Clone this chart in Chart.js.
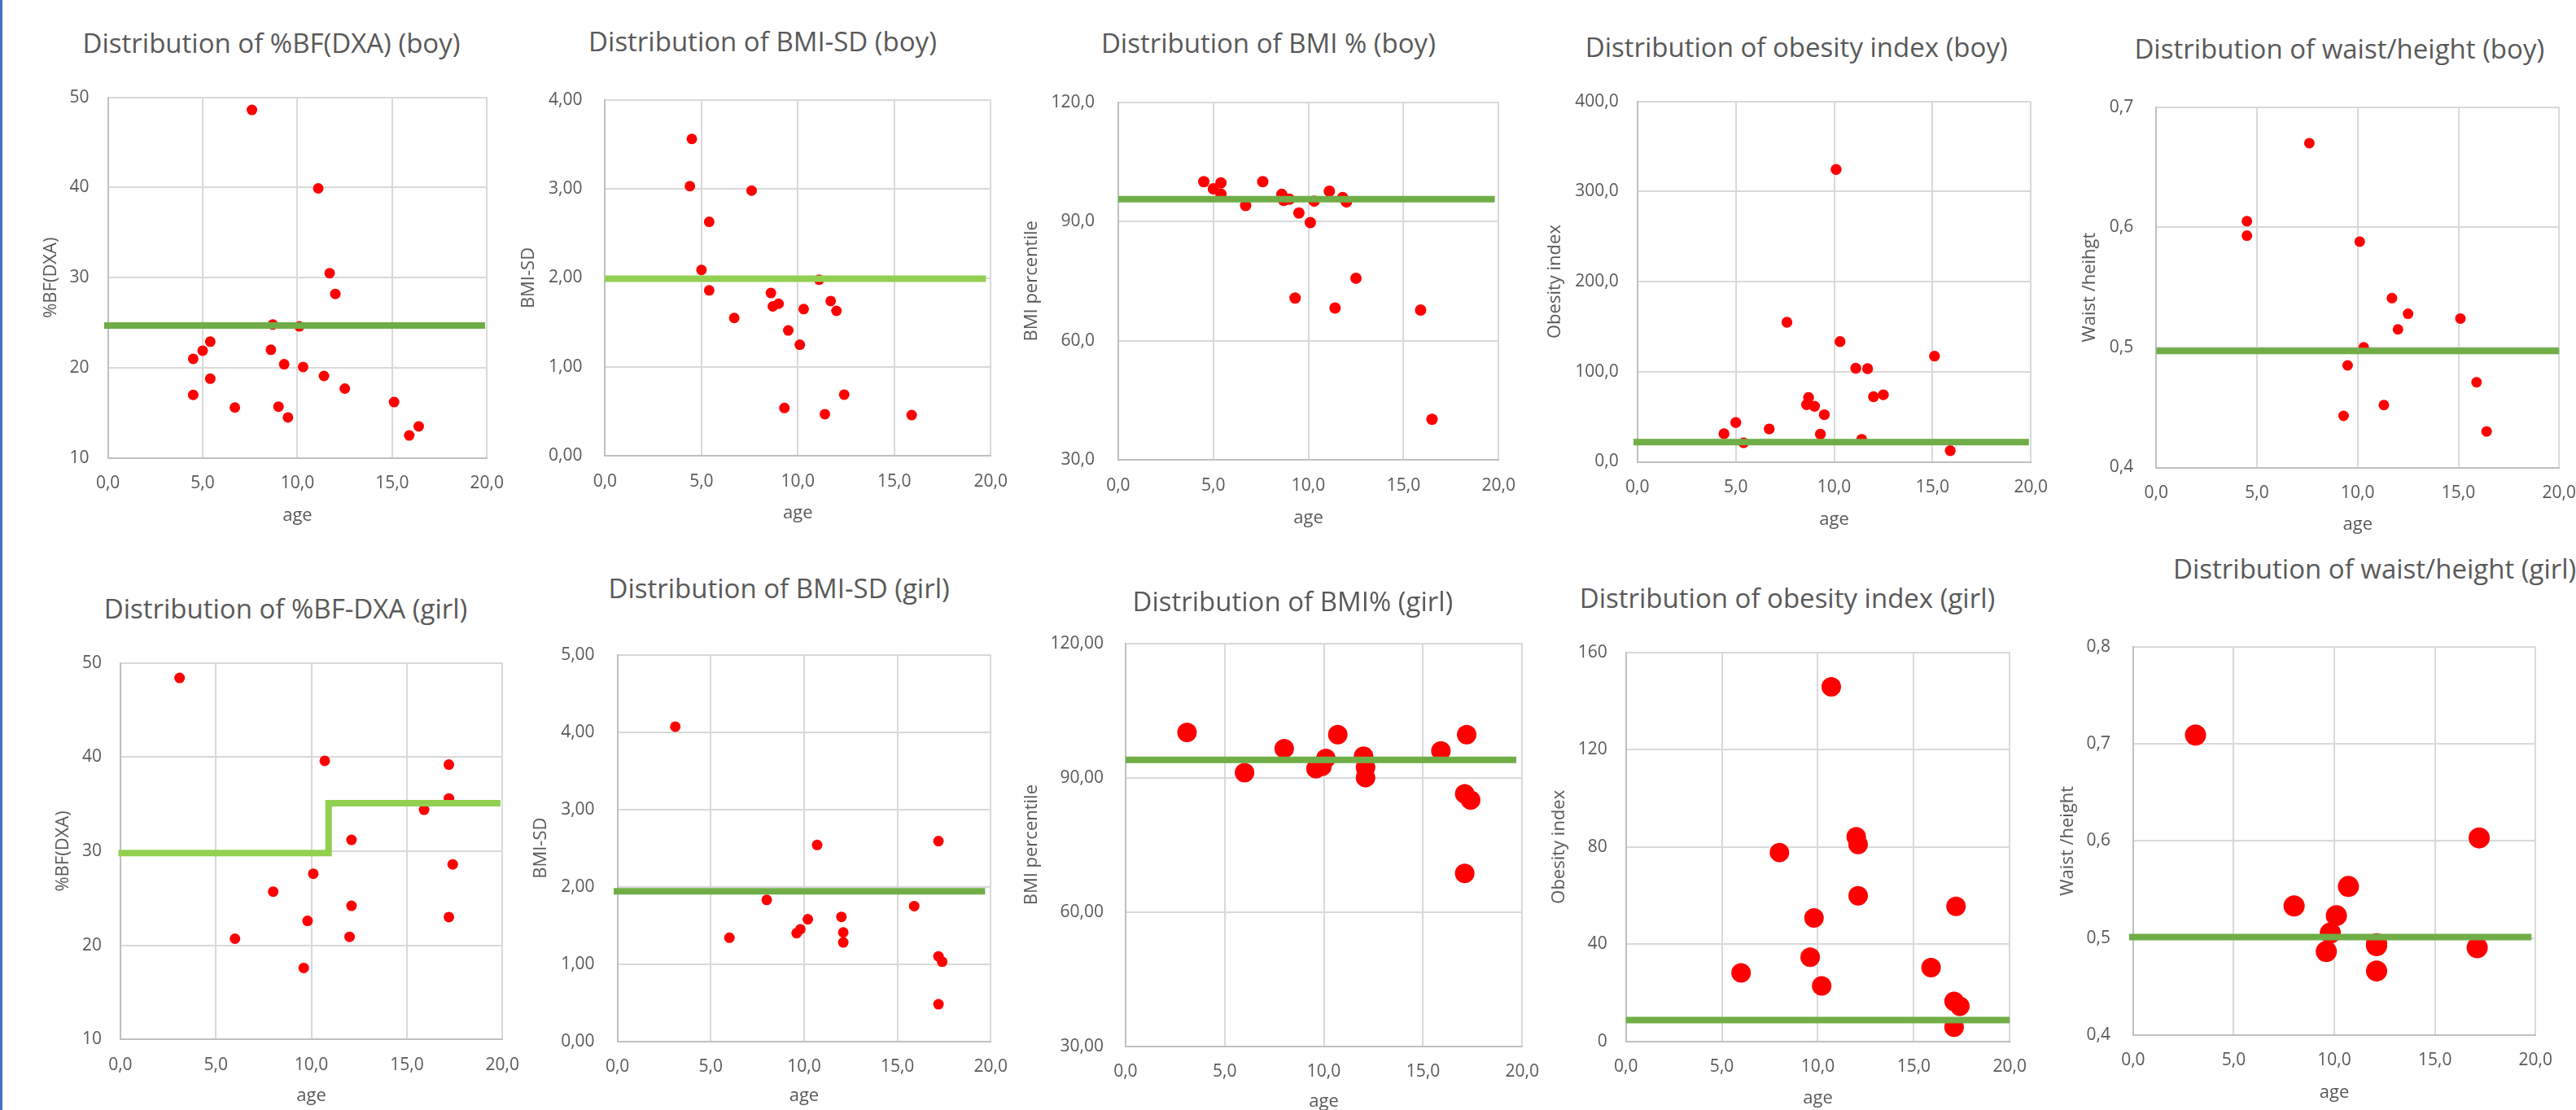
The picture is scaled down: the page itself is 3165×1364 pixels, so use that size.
<!DOCTYPE html>
<html>
<head>
<meta charset="utf-8">
<script src="https://cdn.jsdelivr.net/npm/chart.js@4.4.0/dist/chart.umd.min.js"></script>
<style>
  html, body { margin: 0; padding: 0; background: #fff; }
  body { width: 3165px; height: 1364px; position: relative; overflow: hidden; font-family: 'Open Sans', sans-serif; }
  #borda { position: absolute; left: 0; top: 0; width: 3px; height: 1364px; background: #4472c4; }
  canvas { position: absolute; }
  .titulo { position: absolute; transform: translate(-50%, -50%); font-size: 33px; line-height: 1; color: #595959; white-space: nowrap; }
</style>
</head>
<body>
<div id="borda"></div>
<script>
// eixo x comum
const xTickLabels = ['0,0', '5,0', '10,0', '15,0', '20,0'];

// ticks do eixo y
const bfTicks = ['10', '20', '30', '40', '50'];
const boySdTicks = ['0,00', '1,00', '2,00', '3,00', '4,00'];
const boyPctTicks = ['30,0', '60,0', '90,0', '120,0'];
const boyObTicks = ['0,0', '100,0', '200,0', '300,0', '400,0'];
const boyWhTicks = ['0,4', '0,5', '0,6', '0,7'];
const girlSdTicks = ['0,00', '1,00', '2,00', '3,00', '4,00', '5,00'];
const girlPctTicks = ['30,00', '60,00', '90,00', '120,00'];
const girlObTicks = ['0', '40', '80', '120', '160'];
const girlWhTicks = ['0,4', '0,5', '0,6', '0,7', '0,8'];

// meninos
const boyBfAge = [7.6, 11.1, 11.7, 12.0, 8.7, 10.1, 5.4, 5.0, 4.5, 8.6, 9.3, 10.3, 5.4, 11.4, 4.5, 12.5, 6.7, 9.0, 9.5, 15.1, 15.9, 16.4];
const boyBf = [48.6, 39.9, 30.5, 28.2, 24.8, 24.6, 22.9, 21.9, 21.0, 22.0, 20.4, 20.1, 18.8, 19.1, 17.0, 17.7, 15.6, 15.7, 14.5, 16.2, 12.5, 13.5];
const boySdAge = [4.5, 4.4, 7.6, 5.4, 5.0, 11.1, 5.4, 8.6, 11.7, 9.0, 8.7, 10.3, 12.0, 6.7, 9.5, 10.1, 12.4, 9.3, 11.4, 15.9];
const boySd = [3.56, 3.03, 2.98, 2.63, 2.09, 1.98, 1.86, 1.83, 1.74, 1.71, 1.68, 1.65, 1.63, 1.55, 1.41, 1.25, 0.69, 0.54, 0.47, 0.46];
const boyPctAge = [4.5, 7.6, 5.4, 5.0, 5.4, 11.1, 8.6, 11.8, 8.7, 9.0, 10.3, 12.0, 6.7, 9.5, 10.1, 12.5, 9.3, 11.4, 15.9, 16.5];
const boyPct = [100.0, 100.0, 99.7, 98.2, 96.9, 97.6, 96.8, 96.0, 95.3, 95.6, 95.1, 94.9, 94.0, 92.1, 89.7, 75.7, 70.7, 68.2, 67.7, 40.2];
const boyObAge = [10.1, 7.6, 10.3, 15.1, 11.1, 11.7, 12.5, 12.0, 8.7, 8.6, 9.0, 9.5, 5.0, 6.7, 4.4, 9.3, 11.4, 5.4, 15.9];
const boyOb = [324.4, 154.9, 133.5, 117.3, 103.8, 103.4, 74.4, 72.2, 71.4, 63.5, 61.7, 52.3, 43.6, 36.5, 31.2, 30.8, 24.8, 21.1, 12.4];
const boyWhAge = [7.6, 4.5, 4.5, 10.1, 11.7, 12.5, 15.1, 12.0, 10.3, 9.5, 15.9, 11.3, 9.3, 16.4];
const boyWh = [0.670, 0.605, 0.593, 0.588, 0.541, 0.528, 0.524, 0.515, 0.500, 0.485, 0.471, 0.452, 0.443, 0.430];

// meninas
const girlBfAge = [3.1, 10.7, 17.2, 17.2, 15.9, 12.1, 17.4, 10.1, 8.0, 12.1, 9.8, 17.2, 6.0, 12.0, 9.6];
const girlBf = [48.4, 39.6, 39.2, 35.6, 34.4, 31.2, 28.6, 27.6, 25.7, 24.2, 22.6, 23.0, 20.7, 20.9, 17.6];
const girlSdAge = [3.1, 10.7, 17.2, 8.0, 15.9, 12.0, 10.2, 9.8, 9.6, 12.1, 12.1, 6.0, 17.2, 17.4, 17.2];
const girlSd = [4.07, 2.54, 2.59, 1.83, 1.75, 1.61, 1.58, 1.45, 1.40, 1.41, 1.28, 1.34, 1.10, 1.03, 0.48];
const girlPctAge = [3.1, 10.7, 17.2, 8.0, 15.9, 10.1, 12.0, 12.1, 9.6, 9.9, 6.0, 12.1, 17.1, 17.4, 17.1];
const girlPct = [100.1, 99.6, 99.6, 96.5, 96.0, 94.3, 94.8, 92.3, 92.0, 92.5, 91.1, 90.0, 86.4, 85.0, 68.6];
const girlObAge = [10.7, 12.0, 12.1, 8.0, 12.1, 17.2, 9.8, 9.6, 6.0, 15.9, 10.2, 17.1, 17.4, 17.1];
const girlOb = [145.8, 84.2, 81.0, 77.7, 59.9, 55.6, 50.8, 34.7, 28.2, 30.4, 22.9, 16.5, 14.5, 5.9];
const girlWhAge = [3.1, 17.2, 10.7, 8.0, 10.1, 9.8, 12.1, 12.1, 17.1, 9.6, 12.1];
const girlWh = [0.709, 0.603, 0.553, 0.533, 0.523, 0.505, 0.494, 0.492, 0.490, 0.486, 0.466];

// linhas de corte (verde)
const boyBfCutAge = [-0.2, 19.9];
const boyBfCut = [24.7, 24.7];
const boySdCutAge = [0, 19.75];
const boySdCut = [1.99, 1.99];
const boyPctCutAge = [0, 19.8];
const boyPctCut = [95.6, 95.6];
const boyObCutAge = [-0.2, 19.9];
const boyObCut = [21.8, 21.8];
const boyWhCutAge = [0, 20];
const boyWhCut = [0.497, 0.497];
const girlBfCutAge = [-0.1, 10.9, 10.9, 19.9];
const girlBfCut = [29.8, 29.8, 35.1, 35.1];
const girlSdCutAge = [-0.2, 19.7];
const girlSdCut = [1.94, 1.94];
const girlPctCutAge = [0, 19.7];
const girlPctCut = [94.0, 94.0];
const girlObCutAge = [0, 20];
const girlObCut = [8.8, 8.8];
const girlWhCutAge = [-0.2, 19.8];
const girlWhCut = [0.501, 0.501];

const VERDE = '#70ad47';
const VERDE_CLARO = '#92d050';
const CINZA = '#595959';

const paineis = [
  { titulo: 'Distribution of %BF(DXA) (boy)', eixoY: '%BF(DXA)', x: boyBfAge, y: boyBf, ticks: bfTicks, corteX: boyBfCutAge, corteY: boyBfCut, cor: VERDE, raio: 6.5,
    caixa: { l: 132.6, r: 601.5, t: 108.1, b: 562.3, ty: 63.5, age: 633.3, cx: 333.5, cy: 54.3, pad: 23 } },
  { titulo: 'Distribution of BMI-SD (boy)', eixoY: 'BMI-SD', x: boySdAge, y: boySd, ticks: boySdTicks, corteX: boySdCutAge, corteY: boySdCut, cor: VERDE_CLARO, raio: 6.5,
    caixa: { l: 743.4, r: 1220.7, t: 106, b: 560.6, ty: 650, age: 631, cx: 937, cy: 52, pad: 28 } },
  { titulo: 'Distribution of BMI % (boy)', eixoY: 'BMI percentile', x: boyPctAge, y: boyPct, ticks: boyPctTicks, corteX: boyPctCutAge, corteY: boyPctCut, cor: VERDE, raio: 7,
    caixa: { l: 1373.9, r: 1844.9, t: 108.1, b: 564.9, ty: 1268.6, age: 636.7, cx: 1558.4, cy: 54.3, pad: 29 } },
  { titulo: 'Distribution of obesity index (boy)', eixoY: 'Obesity index', x: boyObAge, y: boyOb, ticks: boyObTicks, corteX: boyObCutAge, corteY: boyObCut, cor: VERDE, raio: 6.7,
    caixa: { l: 2011.8, r: 2499.3, t: 112.8, b: 567.5, ty: 1911.5, age: 638.8, cx: 2207.2, cy: 59, pad: 23 } },
  { titulo: 'Distribution of waist/height (boy)', eixoY: 'Waist /heihgt', x: boyWhAge, y: boyWh, ticks: boyWhTicks, corteX: boyWhCutAge, corteY: boyWhCut, cor: VERDE, raio: 6.5,
    caixa: { l: 2649.3, r: 3148, t: 115.4, b: 574.7, ty: 2568.3, age: 645, cx: 2874.3, cy: 61, pad: 28 } },
  { titulo: 'Distribution of %BF-DXA (girl)', eixoY: '%BF(DXA)', x: girlBfAge, y: girlBf, ticks: bfTicks, corteX: girlBfCutAge, corteY: girlBfCut, cor: VERDE_CLARO, raio: 6.5,
    caixa: { l: 147.9, r: 620.8, t: 803.2, b: 1277.7, ty: 77.9, age: 1347.2, cx: 351, cy: 748.8, pad: 23 } },
  { titulo: 'Distribution of BMI-SD (girl)', eixoY: 'BMI-SD', x: girlSdAge, y: girlSd, ticks: girlSdTicks, corteX: girlSdCutAge, corteY: girlSdCut, cor: VERDE, raio: 6.5,
    caixa: { l: 758.6, r: 1220.7, t: 787.7, b: 1279.9, ty: 665, age: 1347, cx: 957.1, cy: 724, pad: 28 } },
  { titulo: 'Distribution of BMI% (girl)', eixoY: 'BMI percentile', x: girlPctAge, y: girlPct, ticks: girlPctTicks, corteX: girlPctCutAge, corteY: girlPctCut, cor: VERDE, raio: 12,
    caixa: { l: 1382.9, r: 1873.9, t: 775.3, b: 1285.7, ty: 1268.2, age: 1353.8, cx: 1588.4, cy: 740, pad: 27 } },
  { titulo: 'Distribution of obesity index (girl)', eixoY: 'Obesity index', x: girlObAge, y: girlOb, ticks: girlObTicks, corteX: girlObCutAge, corteY: girlObCut, cor: VERDE, raio: 12,
    caixa: { l: 1997.7, r: 2473.2, t: 790, b: 1279.5, ty: 1916, age: 1349.4, cx: 2196, cy: 736.4, pad: 23 } },
  { titulo: 'Distribution of waist/height (girl)', eixoY: 'Waist /height', x: girlWhAge, y: girlWh, ticks: girlWhTicks, corteX: girlWhCutAge, corteY: girlWhCut, cor: VERDE, raio: 13,
    caixa: { l: 2620.9, r: 3119.2, t: 777.6, b: 1271.9, ty: 2540.7, age: 1342.8, cx: 2917.7, cy: 700, pad: 28 } }
];

Chart.defaults.font.family = "'Open Sans', sans-serif";
Chart.defaults.color = CINZA;

const TOPO = 24;
const DIREITA = 36;
const MEIA_LINHA = 13.2; // 22px * 1.2 / 2

const paraNumero = s => parseFloat(s.replace(',', '.'));

function criarGrafico(p) {
  const c = p.caixa;
  const esquerda = Math.round(c.ty - MEIA_LINHA);
  const topo = Math.round(c.t - TOPO);
  const larguraY = c.l - esquerda;
  const alturaX = c.age - c.b + MEIA_LINHA;
  const largura = Math.round(c.r + DIREITA - esquerda);
  const altura = Math.round((c.t - topo) + (c.b - c.t) + alturaX);

  const canvas = document.createElement('canvas');
  canvas.width = largura;
  canvas.height = altura;
  canvas.style.left = esquerda + 'px';
  canvas.style.top = topo + 'px';
  canvas.style.width = largura + 'px';
  canvas.style.height = altura + 'px';
  document.body.appendChild(canvas);

  const titulo = document.createElement('div');
  titulo.className = 'titulo';
  titulo.textContent = p.titulo;
  titulo.style.left = c.cx + 'px';
  titulo.style.top = (c.cy - 2) + 'px';
  document.body.appendChild(titulo);

  const valoresX = xTickLabels.map(paraNumero);
  const valoresY = p.ticks.map(paraNumero);

  const grade = { color: '#d9d9d9', lineWidth: 2, drawTicks: false };
  const borda = { color: '#bfbfbf', width: 2 };

  new Chart(canvas.getContext('2d'), {
    type: 'scatter',
    data: {
      datasets: [
        {
          type: 'line',
          data: p.corteX.map((x, i) => ({ x, y: p.corteY[i] })),
          borderColor: p.cor,
          borderWidth: 8,
          pointRadius: 0,
          fill: false,
          tension: 0,
          borderCapStyle: 'butt',
          borderJoinStyle: 'miter',
          clip: false,
          order: 0
        },
        {
          data: p.x.map((x, i) => ({ x, y: p.y[i] })),
          pointRadius: p.raio,
          pointHoverRadius: p.raio,
          pointBackgroundColor: '#ff0000',
          pointBorderWidth: 0,
          clip: false,
          order: 1
        }
      ]
    },
    options: {
      responsive: false,
      animation: false,
      devicePixelRatio: 1,
      events: [],
      layout: { padding: { top: c.t - topo, right: DIREITA, bottom: 0, left: 0 } },
      plugins: { legend: { display: false }, tooltip: { enabled: false } },
      scales: {
        x: {
          type: 'linear',
          min: valoresX[0],
          max: valoresX[valoresX.length - 1],
          afterBuildTicks: s => { s.ticks = valoresX.map(v => ({ value: v })); },
          afterFit: s => { s.height = alturaX; },
          ticks: { callback: (v, i) => xTickLabels[i], font: { size: 21 }, color: CINZA, padding: 19, maxRotation: 0, autoSkip: false },
          grid: grade,
          border: borda,
          title: { display: true, text: 'age', font: { size: 22, lineHeight: 1.2 }, color: CINZA, padding: 0 }
        },
        y: {
          type: 'linear',
          min: valoresY[0],
          max: valoresY[valoresY.length - 1],
          afterBuildTicks: s => { s.ticks = valoresY.map(v => ({ value: v })); },
          afterFit: s => { s.width = larguraY; },
          ticks: { callback: (v, i) => p.ticks[i], font: { size: 21 }, color: CINZA, padding: c.pad, autoSkip: false },
          grid: grade,
          border: borda,
          title: { display: true, text: p.eixoY, font: { size: 22, lineHeight: 1.2 }, color: CINZA, padding: 0 }
        }
      }
    }
  });
}

paineis.forEach(criarGrafico);
</script>
</body>
</html>
